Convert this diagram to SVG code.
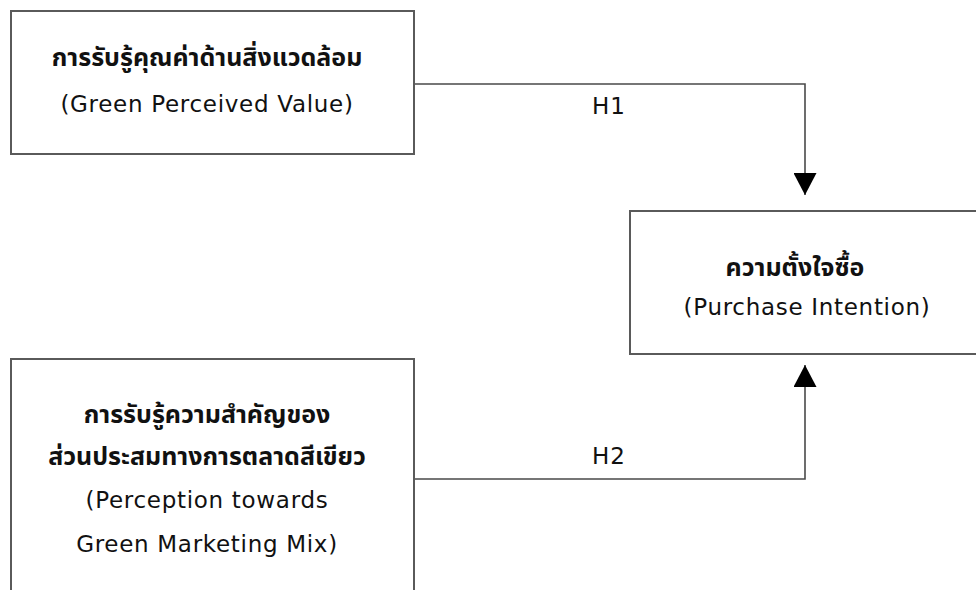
<svg xmlns="http://www.w3.org/2000/svg" width="976" height="590" viewBox="0 0 976 590">
<style>
.box{fill:#fff;stroke:#5a5a5a;stroke-width:2}
.en{font-family:"DejaVu Sans","Liberation Sans",sans-serif;font-size:23px;letter-spacing:0.7px;fill:#111;text-anchor:middle}
.th{font-family:"Noto Sans Thai","Noto Sans Thai UI","Leelawadee UI",Tahoma,"DejaVu Sans",sans-serif;font-size:25px;font-weight:bold;fill:#111;text-anchor:middle}
.lbl{font-family:"DejaVu Sans","Liberation Sans",sans-serif;font-size:23px;fill:#111;text-anchor:start;letter-spacing:1px}
.conn{fill:none;stroke:#4a4a4a;stroke-width:1.6}
</style>
<defs>
<marker id="arr" viewBox="0 0 22 23" refX="22" refY="11.5" markerWidth="22" markerHeight="23" markerUnits="userSpaceOnUse" orient="auto">
<path d="M0,0 L22,11.5 L0,23 Z" fill="#000"/>
</marker>
</defs>
<rect width="976" height="590" fill="#fff"/>
<g id="connectors">
<path class="conn" d="M414,84 H805 V195" marker-end="url(#arr)"/>
<path class="conn" d="M414,479 H805 V365" marker-end="url(#arr)"/>
<text class="lbl" x="592" y="114">H1</text>
<text class="lbl" x="592" y="464">H2</text>
</g>
<g id="green-perceived-value">
<rect class="box" x="11" y="11" width="403" height="143"/>
<text class="th" x="207" y="66">การรับรู้คุณค่าด้านสิ่งแวดล้อม</text>
<text class="en" x="207" y="112">(Green Perceived Value)</text>
</g>
<g id="purchase-intention">
<rect class="box" x="630" y="211" width="360" height="143"/>
<text class="th" x="795" y="276">ความตั้งใจซื้อ</text>
<text class="en" x="807" y="315">(Purchase Intention)</text>
</g>
<g id="green-marketing-mix">
<rect class="box" x="11" y="359" width="403" height="250"/>
<text class="th" x="207" y="423">การรับรู้ความสำคัญของ</text>
<text class="th" x="207" y="465">ส่วนประสมทางการตลาดสีเขียว</text>
<text class="en" x="207" y="508">(Perception towards</text>
<text class="en" x="207" y="552">Green Marketing Mix)</text>
</g>
</svg>
